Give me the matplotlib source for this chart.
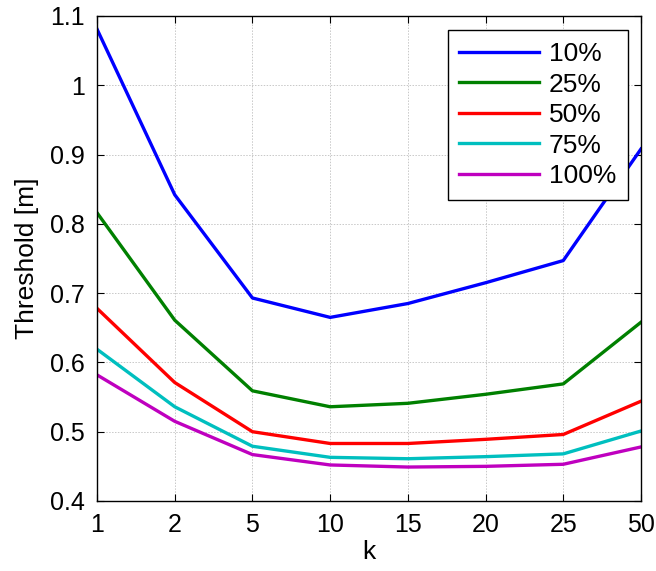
import matplotlib
matplotlib.use("Agg")
import matplotlib.pyplot as plt

plt.rcParams["font.family"] = ["Liberation Sans", "DejaVu Sans"]

k_labels = ["1", "2", "5", "10", "15", "20", "25", "50"]

thr_10 = [1.081, 0.842, 0.693, 0.665, 0.685, 0.715, 0.747, 0.908]
thr_25 = [0.816, 0.661, 0.559, 0.536, 0.541, 0.554, 0.569, 0.658]
thr_50 = [0.678, 0.571, 0.500, 0.483, 0.483, 0.489, 0.496, 0.544]
thr_75 = [0.619, 0.536, 0.479, 0.463, 0.461, 0.464, 0.468, 0.501]
thr_100 = [0.582, 0.515, 0.467, 0.452, 0.449, 0.450, 0.453, 0.478]

series = [
    ("10%", thr_10, (0, 0, 1)),
    ("25%", thr_25, (0, 0.5, 0)),
    ("50%", thr_50, (1, 0, 0)),
    ("75%", thr_75, (0, 0.75, 0.75)),
    ("100%", thr_100, (0.75, 0, 0.75)),
]

fs = 19

fig = plt.figure(figsize=(6.56, 5.71), dpi=100)
ax = fig.add_axes([0.1479, 0.1226, 0.8292, 0.8494])

x = list(range(len(k_labels)))
for label, vals, color in series:
    ax.plot(x, vals, color=color, linewidth=2.4, label=label)

ax.set_xlim(0, len(k_labels) - 1)
ax.set_ylim(0.4, 1.1)
ax.set_xticks(x)
ax.set_xticklabels(k_labels)
ax.set_yticks([0.4, 0.5, 0.6, 0.7, 0.8, 0.9, 1.0, 1.1])
ax.set_yticklabels(["0.4", "0.5", "0.6", "0.7", "0.8", "0.9", "1", "1.1"])

ax.grid(True, color="#c8c8c8", linestyle=(0, (1.5, 1.5)), linewidth=0.7)
ax.tick_params(direction="in", top=True, right=True, length=5, width=0.8,
               labelsize=18)
ax.tick_params(axis="x", pad=9)
ax.tick_params(axis="y", pad=9)
for sp in ax.spines.values():
    sp.set_linewidth(1.0)

ax.set_xlabel("k", fontsize=fs, labelpad=2)
ax.set_ylabel("Threshold [m]", fontsize=fs, labelpad=8)

leg = ax.legend(loc="upper right", bbox_to_anchor=(0.976, 0.971),
                borderaxespad=0, fontsize=fs, handlelength=3.0,
                handletextpad=0.38, labelspacing=0.25, borderpad=0.45,
                fancybox=False, framealpha=1, edgecolor="black")
leg.get_frame().set_linewidth(1.0)

fig.savefig("out.png", dpi=100)
